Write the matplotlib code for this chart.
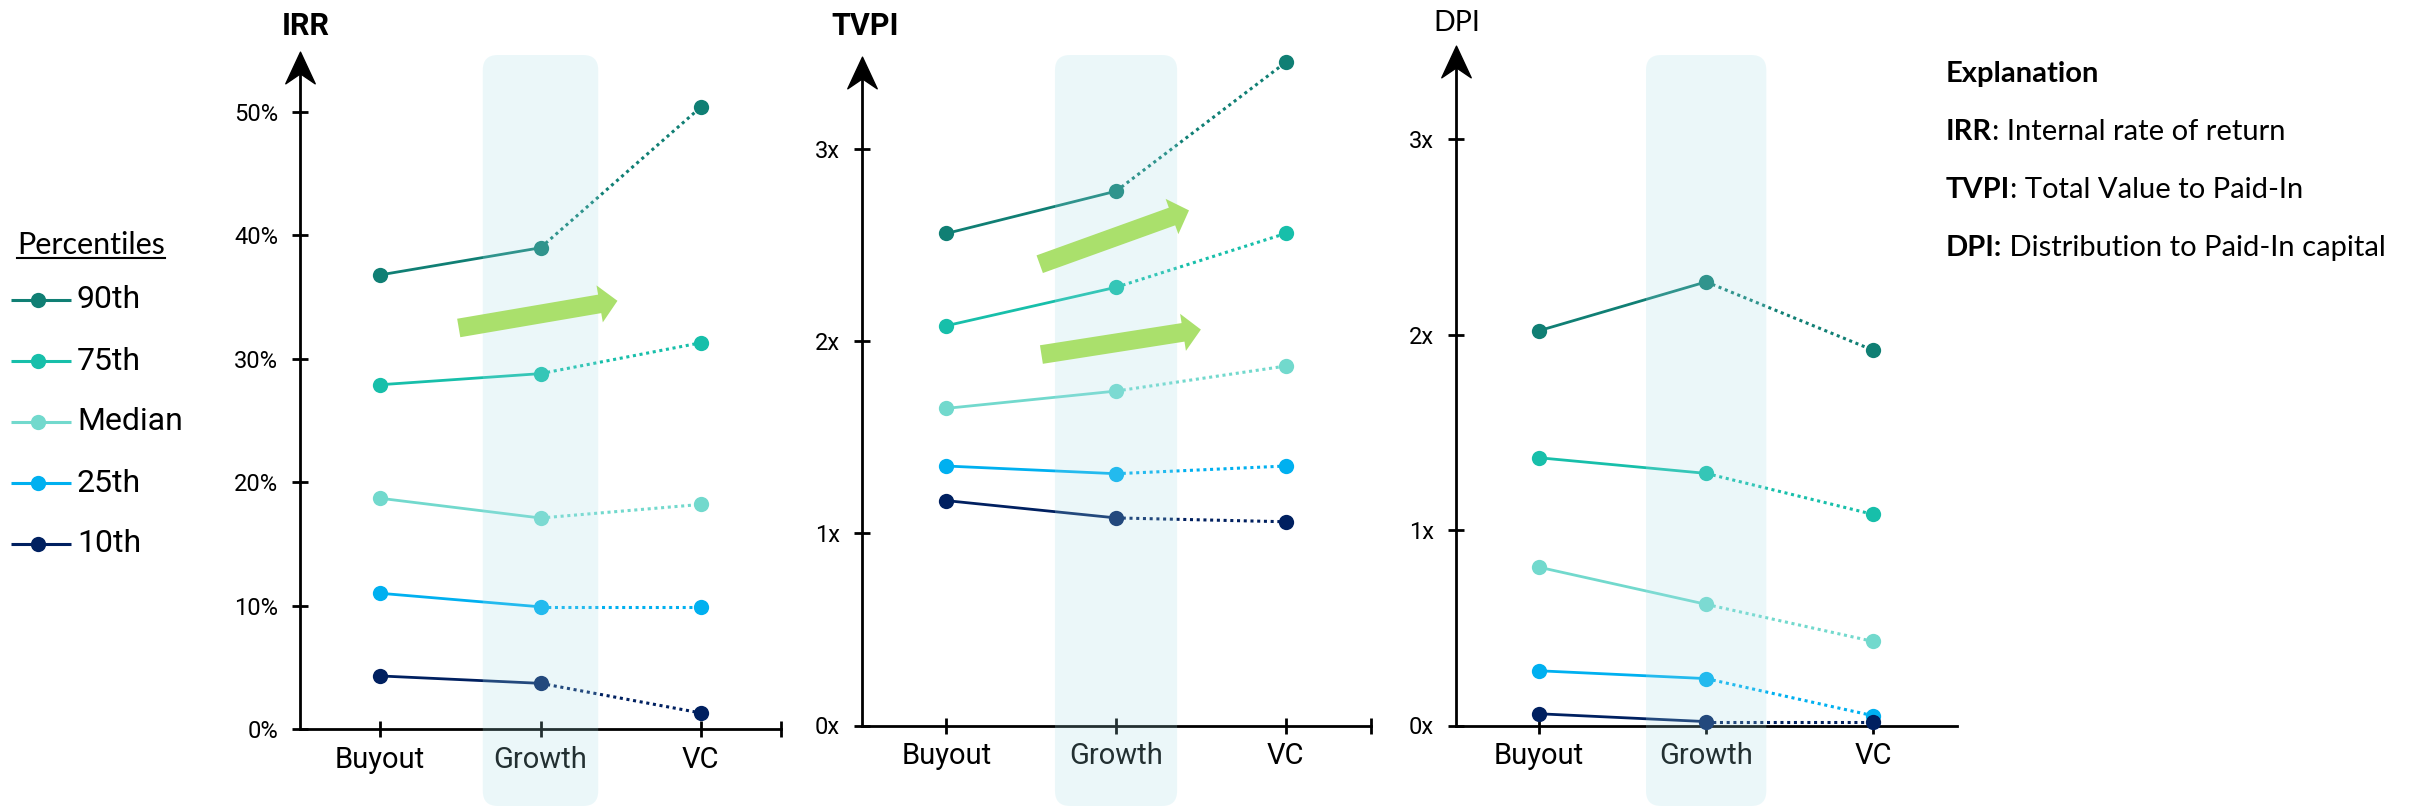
import matplotlib
matplotlib.use('Agg')
import matplotlib.pyplot as plt
from matplotlib.path import Path
from matplotlib.patches import FancyBboxPatch, FancyArrowPatch, ArrowStyle

plt.rcParams['font.family'] = ['Roboto', 'DejaVu Sans']

categories = ['Buyout', 'Growth', 'VC']
percentiles = ['90th', '75th', 'Median', '25th', '10th']
colors = ['#107f74', '#17bfaa', '#72d9cd', '#00b0f0', '#002060']

# one row per percentile, columns follow categories
irr = [[36.8, 39.0, 50.4],
       [27.9, 28.8, 31.3],
       [18.7, 17.1, 18.2],
       [11.0, 9.9, 9.9],
       [4.3, 3.7, 1.3]]
tvpi = [[2.56, 2.78, 3.45],
        [2.08, 2.28, 2.56],
        [1.65, 1.74, 1.87],
        [1.35, 1.31, 1.35],
        [1.17, 1.08, 1.06]]
dpi = [[2.02, 2.27, 1.92],
       [1.37, 1.29, 1.08],
       [0.81, 0.62, 0.43],
       [0.28, 0.24, 0.05],
       [0.06, 0.02, 0.02]]

irr_ticks = [0, 10, 20, 30, 40, 50]
irr_labels = ['0%', '10%', '20%', '30%', '40%', '50%']
mult_ticks = [0, 1, 2, 3]
mult_labels = ['0x', '1x', '2x', '3x']

explain = [('IRR', ': Internal rate of return'),
           ('TVPI', ': Total Value to Paid-In'),
           ('DPI:', ' Distribution to Paid-In capital')]

W, H = 2410, 808
fig = plt.figure(figsize=(W / 100, H / 100), dpi=100)


def rect(left, right, top, bottom):
    return [left / W, 1 - bottom / H, (right - left) / W, (bottom - top) / H]


# stealth arrow head for the y axes
stealth = Path([(0, 15.3), (14.7, -16.3), (0, -6.3), (-14.7, -16.3), (0, 15.3)],
               [Path.MOVETO, Path.LINETO, Path.LINETO, Path.LINETO, Path.CLOSEPOLY])


def panel(box, values, ymax, ticks, labels, end_cap):
    ax = fig.add_axes(rect(*box))
    x = range(len(categories))
    for vals, c in zip(values, colors):
        ax.plot(x[:2], vals[:2], color=c, lw=2, solid_capstyle='butt', clip_on=False, zorder=2)
        ax.plot(x[1:], vals[1:], color=c, lw=2.2, ls=(0, (1, 1.2)), clip_on=False, zorder=2)
        ax.plot(x, vals, 'o', color=c, ms=11, mec='none', clip_on=False, zorder=3)
    ax.set_xlim(-0.5, 2.5)
    ax.set_ylim(0, ymax)
    for s in ['top', 'right']:
        ax.spines[s].set_visible(False)
    for s in ['left', 'bottom']:
        ax.spines[s].set_linewidth(2)
    xt = list(x) + ([2.5] if end_cap else [])
    ax.set_xticks(xt, categories + ([''] if end_cap else []))
    ax.set_yticks(ticks, labels)
    ax.tick_params(axis='y', direction='inout', length=11.5, width=2, pad=10, labelsize=17)
    ax.tick_params(axis='x', direction='inout', length=12, width=2, pad=6, labelsize=21)
    ax.plot([-0.5], [ymax], marker=stealth, ms=23.5, color='black', mec='black',
            clip_on=False, zorder=4)
    return ax


ax_irr = panel((300, 781, 67, 729), irr, 53.65, irr_ticks, irr_labels, True)
ax_tvpi = panel((861.6, 1370.5, 72, 725.5), tvpi, 3.40, mult_ticks, mult_labels, True)
ax_dpi = panel((1455.5, 1956.8, 61, 725.5), dpi, 3.40, mult_ticks, mult_labels, False)

# overlay in pixel units: growth bands, trend arrows, legend and notes
ov = fig.add_axes([0, 0, 1, 1], zorder=5)
ov.set_xlim(0, W)
ov.set_ylim(0, H)
ov.axis('off')
ov.patch.set_visible(False)

for ax in [ax_irr, ax_tvpi, ax_dpi]:
    x0 = ax.transData.transform((1 - 0.36, 0))[0]
    x1 = ax.transData.transform((1 + 0.36, 0))[0]
    ov.add_patch(FancyBboxPatch((x0, 2), x1 - x0, H - 57, boxstyle='round,pad=0,rounding_size=15',
                                fc=(164 / 255, 223 / 255, 232 / 255), alpha=0.22, ec='none', zorder=1))

green = '#aae06c'
trend = [(ax_irr, (0.49, 32.5), (1.48, 34.7)),
         (ax_tvpi, (0.55, 2.40), (1.43, 2.68)),
         (ax_tvpi, (0.56, 1.93), (1.50, 2.06))]
for ax, a, b in trend:
    ov.add_artist(FancyArrowPatch(a, b, transform=ax.transData,
                                  arrowstyle=ArrowStyle.Simple(head_length=13, head_width=27, tail_width=13.5),
                                  mutation_scale=1, shrinkA=0, shrinkB=0, color=green, lw=0, zorder=3))

# panel titles
ov.text(306, H - 35, 'IRR', ha='center', va='baseline', fontsize=22, fontweight='bold')
ov.text(865, H - 35, 'TVPI', ha='center', va='baseline', fontsize=22, fontweight='bold')
ov.text(1457, H - 31, 'DPI', ha='center', va='baseline', fontsize=20.5, family=['Lato', 'DejaVu Sans'])

# legend
t = ov.text(17, H - 254, 'Percentiles', ha='left', va='baseline', fontsize=22,
            family=['Lato', 'DejaVu Sans'])
fig.canvas.draw()
bb = t.get_window_extent()
ov.plot([bb.x0, bb.x1], [H - 258, H - 258], color='black', lw=1.5)
for i, (name, c) in enumerate(zip(percentiles, colors)):
    y = H - (300 + 61 * i)
    ov.plot([11, 71], [y, y], color=c, lw=2.2, solid_capstyle='butt')
    ov.plot([38], [y], 'o', color=c, ms=11, mec='none')
    ov.text(77, y, name, ha='left', va='center', fontsize=23)

# explanation
for i, head in enumerate(['Explanation'] + [e[0] for e in explain]):
    y = H - (82 + 58 * i)
    tb = ov.text(1946, y, head, ha='left', va='baseline', fontsize=21,
                 fontweight='bold', family=['Lato', 'DejaVu Sans'])
    if i > 0:
        ov.annotate(explain[i - 1][1], xy=(1, 0), xycoords=tb, ha='left', va='bottom',
                    fontsize=21, family=['Lato', 'DejaVu Sans'])

fig.savefig('out.png', dpi=100)
